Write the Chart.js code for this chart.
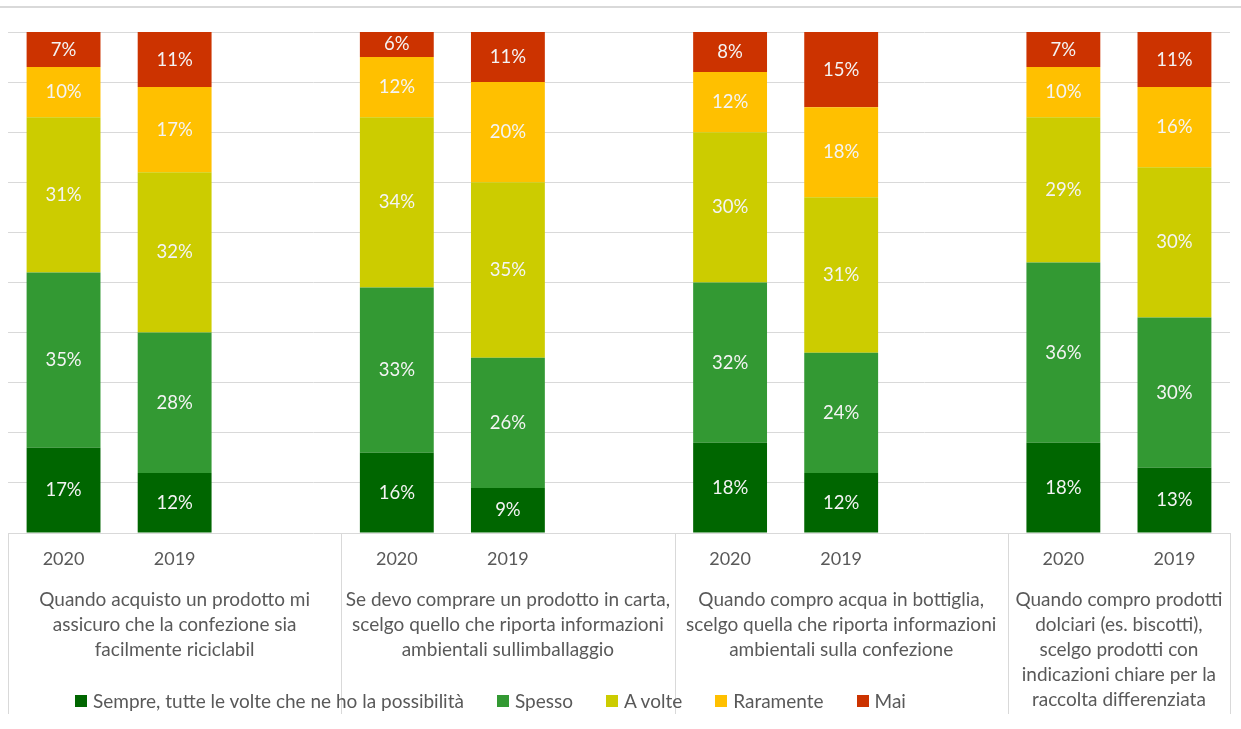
<!DOCTYPE html>
<html>
<head>
<meta charset="utf-8">
<title>Imballaggi e informazioni ambientali</title>
<script src="https://cdn.jsdelivr.net/npm/chart.js@4.4.1/dist/chart.umd.min.js"></script>
<style>
    html, body { margin: 0; padding: 0; background: #fff; overflow: hidden; }
    #wrap { position: relative; width: 1241px; height: 729px; }
    #legend { position: absolute; left: 75px; top: 689px; display: flex; font-family: Lato, sans-serif; font-size: 19px; color: #595959; white-space: nowrap; }
    .item { display: flex; align-items: center; margin-right: 33px; }
    .box { width: 12px; height: 12px; margin-right: 6px; }
</style>
</head>
<body>
<div id="wrap">
    <canvas id="chart" width="1241" height="729"></canvas>
    <div id="legend"></div>
</div>
<script>
// one slot per bar, an empty slot between question groups
const years = ['2020', '2019', '', '2020', '2019', '', '2020', '2019', '', '2020', '2019'];

const groupLabels = [
    ['Quando acquisto un prodotto mi', 'assicuro che la confezione sia', 'facilmente riciclabil'],
    ['Se devo comprare un prodotto in carta,', 'scelgo quello che riporta informazioni', 'ambientali sullimballaggio'],
    ['Quando compro acqua in bottiglia,', 'scelgo quella che riporta informazioni', 'ambientali sulla confezione'],
    ['Quando compro prodotti', 'dolciari (es. biscotti),', 'scelgo prodotti con', 'indicazioni chiare per la', 'raccolta differenziata']
];

const seriesNames = ['Sempre, tutte le volte che ne ho la possibilità', 'Spesso', 'A volte', 'Raramente', 'Mai'];
const seriesColors = ['#006600', '#339933', '#CCCC00', '#FFC000', '#CC3300'];

const sempre    = [17, 12, null, 16,  9, null, 18, 12, null, 18, 13];
const spesso    = [35, 28, null, 33, 26, null, 32, 24, null, 36, 30];
const aVolte    = [31, 32, null, 34, 35, null, 30, 31, null, 29, 30];
const raramente = [10, 17, null, 12, 20, null, 12, 18, null, 10, 16];
const mai       = [ 7, 11, null,  6, 11, null,  8, 15, null,  7, 11];

const seriesValues = [sempre, spesso, aVolte, raramente, mai];

const FONT = 'Lato, sans-serif';
const GREY = '#595959';
const LINE = '#d9d9d9';

// percentages written in the middle of each segment
const barLabels = {
    id: 'barLabels',
    afterDatasetsDraw(chart) {
        const { ctx, chartArea } = chart;
        ctx.save();
        ctx.font = '18.5px ' + FONT;
        ctx.fillStyle = '#f4f4f4';
        ctx.textAlign = 'center';
        ctx.textBaseline = 'middle';
        chart.data.datasets.forEach((ds, i) => {
            chart.getDatasetMeta(i).data.forEach((bar, j) => {
                const v = ds.data[j];
                if (v == null) return;
                const top = Math.max(bar.y, chartArea.top);
                ctx.fillText(v + '%', bar.x, (top + bar.base) / 2);
            });
        });
        ctx.restore();
    }
};

// question text under the years, separator lines and top rule
const groupAxis = {
    id: 'groupAxis',
    afterDraw(chart) {
        const { ctx, chartArea } = chart;
        const x = chart.scales.x;
        const edges = [chartArea.left];
        for (let g = 1; g < groupLabels.length; g++) {
            edges.push((x.getPixelForValue(3 * g - 1) + x.getPixelForValue(3 * g)) / 2);
        }
        edges.push(chartArea.right);

        ctx.save();
        ctx.strokeStyle = LINE;
        ctx.lineWidth = 2;
        ctx.beginPath();
        ctx.moveTo(0, 7);
        ctx.lineTo(chart.width, 7);
        ctx.stroke();

        ctx.lineWidth = 1;
        edges.forEach(px => {
            const xx = Math.round(px) + 0.5;
            ctx.beginPath();
            ctx.moveTo(xx, chartArea.bottom);
            ctx.lineTo(xx, 714);
            ctx.stroke();
        });

        ctx.font = '19px ' + FONT;
        ctx.fillStyle = GREY;
        ctx.textAlign = 'center';
        ctx.textBaseline = 'middle';
        groupLabels.forEach((lines, g) => {
            const cx = (edges[g] + edges[g + 1]) / 2;
            lines.forEach((t, k) => ctx.fillText(t, cx, 600 + k * 25));
        });
        ctx.restore();
    }
};

new Chart(document.getElementById('chart').getContext('2d'), {
    type: 'bar',
    data: {
        labels: years,
        datasets: seriesNames.map((name, i) => ({
            label: name,
            data: seriesValues[i],
            backgroundColor: seriesColors[i],
            borderWidth: 0,
            categoryPercentage: 1,
            barPercentage: 0.665,
            clip: 0
        }))
    },
    options: {
        responsive: false,
        animation: false,
        layout: {
            padding: { left: 8, right: 11, top: 32, bottom: 0 }
        },
        plugins: {
            legend: { display: false },
            tooltip: { enabled: false }
        },
        scales: {
            x: {
                stacked: true,
                grid: { display: false },
                border: { display: false },
                ticks: {
                    color: GREY,
                    font: { family: FONT, size: 18 },
                    padding: 7,
                    maxRotation: 0,
                    autoSkip: false
                },
                afterFit: s => { s.height = 196; }
            },
            y: {
                stacked: true,
                min: 0,
                max: 100,
                ticks: { display: false, stepSize: 10 },
                grid: { color: LINE, drawTicks: false },
                border: { display: false },
                afterFit: s => { s.width = 0; }
            }
        }
    },
    plugins: [barLabels, groupAxis]
});

// legend row
const legend = document.getElementById('legend');
seriesNames.forEach((name, i) => {
    const item = document.createElement('div');
    item.className = 'item';
    item.innerHTML = '<span class="box" style="background:' + seriesColors[i] + '"></span><span>' + name + '</span>';
    legend.appendChild(item);
});
</script>
</body>
</html>
